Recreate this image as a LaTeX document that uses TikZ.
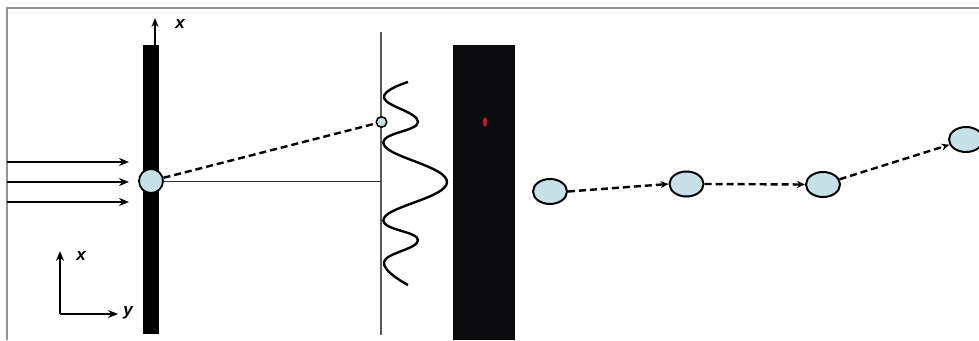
\documentclass[tikz,border=0pt]{standalone}
\usepackage{fontspec}
\setmainfont{Liberation Sans}
\usepackage{xcolor}
\usepackage{tikz}
\usetikzlibrary{shapes.geometric, arrows.meta, positioning}

\definecolor{holeblue}{RGB}{200,224,232}
\definecolor{panelblack}{RGB}{11,11,13}
\definecolor{spotred}{RGB}{200,20,50}

\begin{document}
\begin{tikzpicture}[
    x=1pt, y=-1pt,
    frame/.style={
        draw=gray!85,
        line width=1.3pt
    },
    slitbar/.style={
        rectangle,
        fill=black,
        inner sep=0,
        minimum width=16,
        minimum height=289
    },
    hole/.style={
        circle,
        draw=black,
        fill=holeblue,
        line width=1.8pt,
        inner sep=0,
        minimum size=24
    },
    dotpt/.style={
        circle,
        draw=black,
        fill=holeblue,
        line width=1.5pt,
        inner sep=0,
        minimum size=10.5
    },
    panel/.style={
        rectangle,
        fill=panelblack,
        inner sep=0,
        minimum width=62,
        minimum height=295
    },
    spot/.style={
        ellipse,
        fill=spotred,
        inner sep=0,
        minimum width=4,
        minimum height=10
    },
    walk/.style={
        ellipse,
        draw=black,
        fill=holeblue,
        line width=2pt,
        inner sep=0,
        minimum width=34,
        minimum height=25
    },
    ray/.style={
        line width=2.2pt,
        -{Stealth[length=10pt, width=8pt]}
    },
    jump/.style={
        line width=2.4pt,
        dash pattern=on 7pt off 4pt,
        -{Stealth[length=8pt, width=7pt]}
    },
    screenline/.style={
        draw=black!65,
        line width=1.8pt
    },
    wave/.style={
        line width=2.4pt
    },
    axisarrow/.style={
        line width=2pt,
        -{Stealth[length=10pt, width=8pt]}
    },
    axislabel/.style={
        font=\fontsize{17}{19}\selectfont\bfseries\itshape
    }
]
    \useasboundingbox (0,0) rectangle (979,340);

    % Frame
    \draw [frame] (7,340) -- (7,8) -- (979,8);

    % Incoming beam and slit
    \node [slitbar] (slit) at (151,189.5) {};
    \node [hole] (hole) at (151,181) {};
    \coordinate (in1) at (7,162);
    \coordinate (in2) at (7,182);
    \coordinate (in3) at (7,202);
    \coordinate (tip1) at (129,162);
    \coordinate (tip2) at (129,182);
    \coordinate (tip3) at (129,202);
    \draw [ray] (in1) -- (tip1);
    \draw [ray] (in2) -- (tip2);
    \draw [ray] (in3) -- (tip3);

    % Axis on the slit
    \coordinate (xtip) at (155,18);
    \draw [line width=1.4pt, -{Stealth[length=9pt, width=7pt]}] (xtip |- slit.north) -- (xtip);
    \node [axislabel] (xlabel) at (180,24) {x};

    % Screen with pattern
    \coordinate (scrtop) at (381,32);
    \coordinate (scrbot) at (381,335);
    \draw [screenline] (scrtop) -- (scrbot);
    \node [dotpt] (dot) at (381.5,122) {};
    \draw [line width=1pt, draw=black!80] (hole.east) -- (hole -| scrtop);
    \draw [line width=2.4pt, dash pattern=on 7pt off 4pt] (hole) -- (dot);
    \draw [wave] plot [smooth, tension=0.75] coordinates {
        (408,82) (384,98) (418,122) (384,145) (447,182)
        (384,218) (418,240) (384,262) (408,285)};

    % Detector panel
    \node [panel] (panel) at (484,192.5) {};
    \node [spot] (spot) at (485,122) {};

    % Sequence of positions
    \node [walk] (p1) at (550,191.5) {};
    \node [walk] (p2) at (686.5,184) {};
    \node [walk] (p3) at (823,184.5) {};
    \node [walk] (p4) at (966,139.5) {};
    \draw [jump] (p1.east) -- (p2.west);
    \draw [jump] (p2.east) -- (p3.west);
    \draw [jump] (p3) -- (p4);

    % Coordinate axes
    \coordinate (origin) at (60,314);
    \coordinate (xend) at (60,251);
    \coordinate (yend) at (118,314);
    \draw [axisarrow] (origin) -- (xend);
    \draw [axisarrow] (origin) -- (yend);
    \node [axislabel] (xaxis) at (81,256) {x};
    \node [axislabel] (yaxis) at (128,313) {y};

\end{tikzpicture}
\end{document}
